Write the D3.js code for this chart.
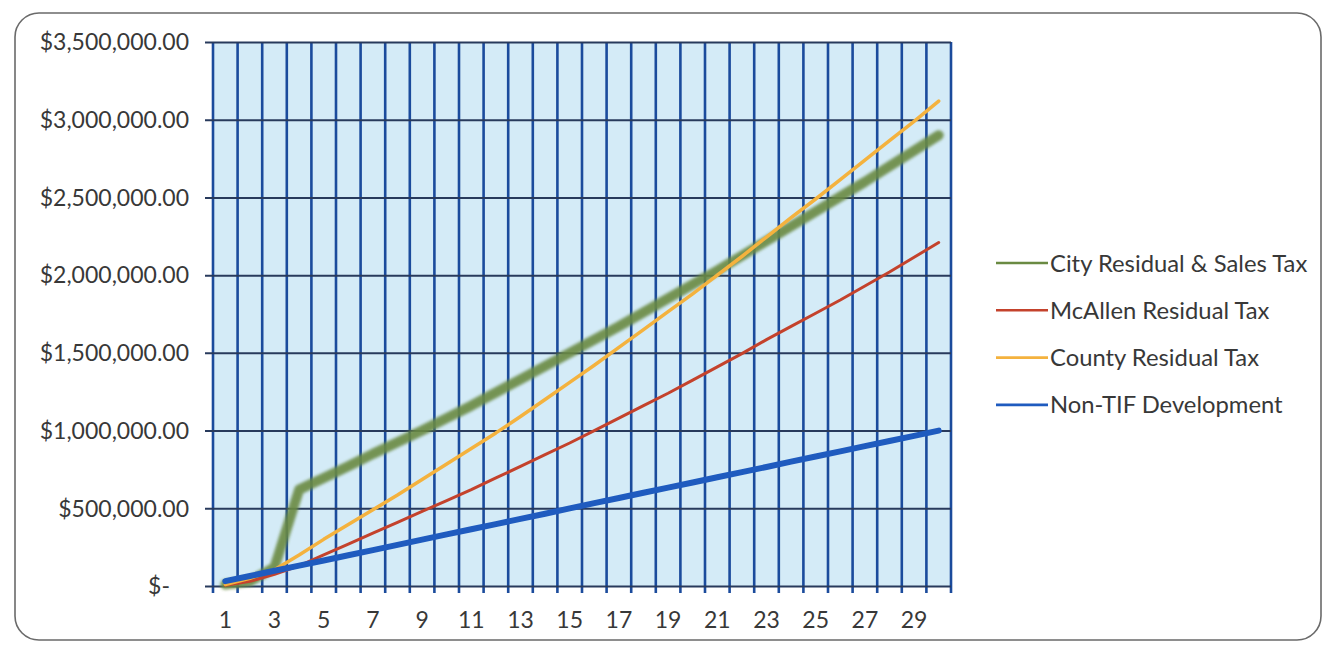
<!DOCTYPE html>
<html>
<head>
<meta charset="utf-8">
<script src="https://cdn.jsdelivr.net/npm/d3@7/dist/d3.min.js"></script>
<style>
  html, body { margin: 0; padding: 0; background: #fff; }
  svg { display: block; }
  text { font-family: Lato, "Open Sans", sans-serif; fill: #383838; }
</style>
</head>
<body>
<svg id="chart" width="1327" height="645"></svg>
<script>
// Years of the projection
const years = d3.range(1, 31);

// Cumulative revenue per year, in dollars
const cityResidualSales = [
  10000, 30000, 120000, 620000, 695000, 770000, 850000, 925000, 1000000, 1080000,
  1160000, 1245000, 1330000, 1415000, 1500000, 1585000, 1670000, 1760000, 1850000, 1940000,
  2030000, 2125000, 2220000, 2315000, 2410000, 2505000, 2600000, 2700000, 2800000, 2900000
];
const mcallenResidual = [
  5000, 30000, 75000, 130000, 200000, 270000, 340000, 410000, 480000, 550000,
  620000, 695000, 770000, 845000, 920000, 1000000, 1080000, 1160000, 1240000, 1325000,
  1410000, 1495000, 1585000, 1670000, 1755000, 1840000, 1930000, 2020000, 2115000, 2210000
];
const countyResidual = [
  10000, 50000, 105000, 200000, 300000, 395000, 490000, 585000, 685000, 785000,
  885000, 985000, 1090000, 1200000, 1310000, 1420000, 1535000, 1650000, 1765000, 1880000,
  2000000, 2120000, 2245000, 2370000, 2490000, 2615000, 2740000, 2865000, 2990000, 3120000
];
const nonTifDevelopment = [
  31000, 64000, 98000, 131000, 164000, 198000, 231000, 265000, 298000, 332000,
  365000, 398000, 432000, 465000, 499000, 533000, 566000, 600000, 633000, 666000,
  700000, 733000, 766000, 800000, 833000, 866000, 900000, 933000, 966000, 1000000
];

const seriesNames = [
  "City Residual & Sales Tax",
  "McAllen Residual Tax",
  "County Residual Tax",
  "Non-TIF Development"
];
const seriesValues = [cityResidualSales, mcallenResidual, countyResidual, nonTifDevelopment];
const seriesColors = ["#6a8a42", "#c4422c", "#f4b23e", "#1f5bbf"];
const seriesWidths = [10, 3, 3.5, 6];

const yTicks = [0, 500000, 1000000, 1500000, 2000000, 2500000, 3000000, 3500000];

const svg = d3.select("#chart");

// Card outline
svg.append("rect")
  .attr("x", 15).attr("y", 13)
  .attr("width", 1306).attr("height", 627)
  .attr("rx", 24).attr("ry", 24)
  .attr("fill", "#fff")
  .attr("stroke", "#6a6a6a")
  .attr("stroke-width", 1.6);

const plot = { left: 213, right: 951, top: 42, bottom: 586 };

const x = d3.scaleBand().domain(years).range([plot.left, plot.right]).padding(0);
const y = d3.scaleLinear().domain([0, 3500000]).range([plot.bottom, plot.top]);

const defs = svg.append("defs");
defs.append("filter").attr("id", "soft")
  .attr("x", "-5%").attr("y", "-5%").attr("width", "110%").attr("height", "110%")
  .append("feGaussianBlur").attr("stdDeviation", 1.6);

// Plot area fill
svg.append("rect")
  .attr("x", plot.left).attr("y", plot.top)
  .attr("width", plot.right - plot.left).attr("height", plot.bottom - plot.top)
  .attr("fill", "#d4ebf7");

// Vertical gridlines at category boundaries, with ticks below the axis
const bounds = years.map(d => x(d)).concat([x(years[years.length - 1]) + x.bandwidth()]);
svg.append("g").selectAll("line").data(bounds).join("line")
  .attr("x1", d => d).attr("x2", d => d)
  .attr("y1", plot.top).attr("y2", plot.bottom + 7)
  .attr("stroke", "#1b4b9c")
  .attr("stroke-width", 2.6);

// Horizontal gridlines and dollar labels
const fmtMoney = d3.format("$,.2f");
const yAxis = d3.axisLeft(y)
  .tickValues(yTicks)
  .tickSize(-(plot.right - plot.left))
  .tickPadding(24)
  .tickFormat(d => d === 0 ? "$-" : fmtMoney(d));
const gy = svg.append("g")
  .attr("transform", `translate(${plot.left},0)`)
  .call(yAxis);
gy.select(".domain").remove();
gy.selectAll(".tick line")
  .attr("x1", -8)
  .attr("stroke", "#283a5c")
  .attr("stroke-width", 2);
gy.selectAll(".tick text")
  .attr("font-size", 23)
  .attr("fill", "#383838")
  .attr("dy", "0.34em")
  .filter(d => d === 0)
  .attr("dx", -19);

// Category labels (every other year)
const xAxis = d3.axisBottom(x)
  .tickValues(years.filter(d => d % 2 === 1))
  .tickSize(0)
  .tickPadding(26);
const gx = svg.append("g")
  .attr("transform", `translate(0,${plot.bottom})`)
  .call(xAxis);
gx.select(".domain").remove();
gx.selectAll(".tick text")
  .attr("font-size", 23)
  .attr("fill", "#383838");

// Series lines
const line = d3.line()
  .x((d, i) => x(years[i]) + x.bandwidth() / 2)
  .y(d => y(d));

const lines = svg.append("g");
seriesValues.forEach((vals, k) => {
  lines.append("path")
    .datum(vals)
    .attr("d", line)
    .attr("fill", "none")
    .attr("stroke", seriesColors[k])
    .attr("stroke-width", seriesWidths[k])
    .attr("stroke-linejoin", "round")
    .attr("stroke-linecap", "round")
    .attr("opacity", k === 0 ? 0.9 : 1)
    .attr("filter", k === 0 ? "url(#soft)" : null);
});

// Legend
const legend = svg.append("g");
seriesNames.forEach((name, k) => {
  const ly = 263 + k * 47.3;
  legend.append("line")
    .attr("x1", 996).attr("x2", 1048)
    .attr("y1", ly).attr("y2", ly)
    .attr("stroke", seriesColors[k])
    .attr("stroke-width", 2.6);
  legend.append("text")
    .attr("x", 1050).attr("y", ly)
    .attr("dy", "0.36em")
    .attr("font-size", 23.8)
    .attr("fill", "#383838")
    .text(name);
});
</script>
</body>
</html>
